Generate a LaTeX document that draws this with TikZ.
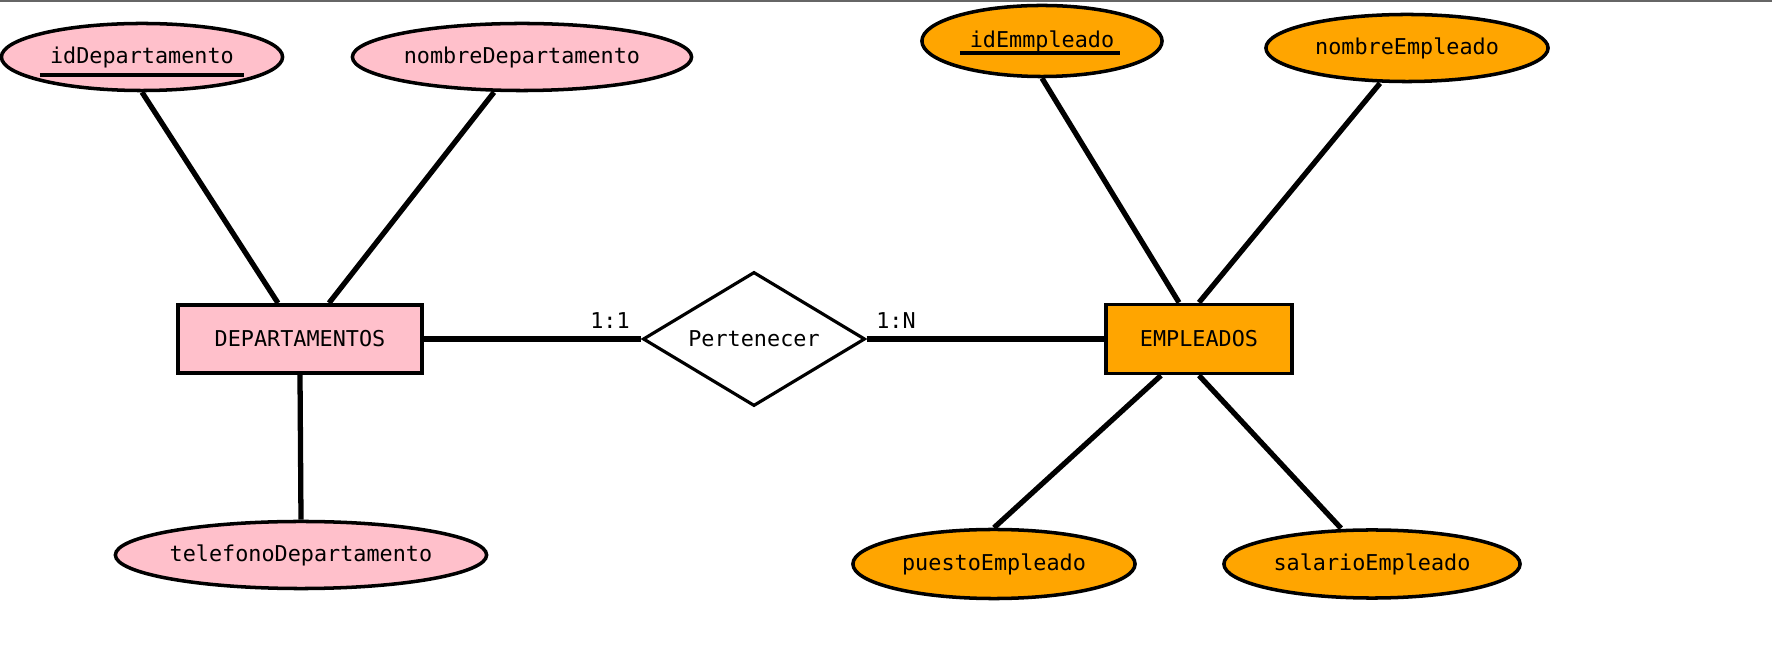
\documentclass[tikz,border=0pt]{standalone}
\usepackage{fontspec}
\setmainfont{DejaVu Sans Mono}
\usetikzlibrary{shapes.geometric}
\definecolor{rosa}{RGB}{255,192,203}
\definecolor{naranja}{RGB}{255,165,0}
\tikzset{
	entidad/.style={draw, line width=1.1pt, rectangle, inner sep=0pt},
	atributo/.style={draw, line width=1pt, ellipse, inner sep=0pt, minimum height=0.68cm},
	relacion/.style={draw, line width=0.9pt, diamond, aspect=1.66, inner sep=0pt, minimum width=2.22cm, minimum height=1.34cm, fill=white},
	enlace/.style={line width=1.5pt},
	clave/.style={line width=1.1pt}
}

\begin{document}
\begin{tikzpicture}[x=0.01cm, y=-0.01cm, font=\fontsize{6.2pt}{7.5pt}\selectfont]
	\useasboundingbox (0,0) rectangle (1772,661);
	\fill[white] (0,0) rectangle (1772,661);
	\draw[gray!80!black, line width=0.6pt] (0,1) -- (1772,1);

	% Entidades
	\node[entidad, fill=rosa, minimum width=2.43cm, minimum height=0.68cm] (dep) at (300,339) {DEPARTAMENTOS};
	\node[entidad, fill=naranja, minimum width=1.86cm, minimum height=0.69cm] (emp) at (1199,339) {EMPLEADOS};

	% Relacion
	\node[relacion] (rel) at (754,339) {Pertenecer};
	\node (card1) at (610,321) {1:1};
	\node (cardN) at (896,321) {1:N};

	% Atributos de DEPARTAMENTOS
	\node[atributo, fill=rosa, minimum width=2.81cm, minimum height=0.67cm] (idDep) at (142,57) {idDepartamento};
	\node[atributo, fill=rosa, minimum width=3.39cm, minimum height=0.67cm] (nomDep) at (522,57) {nombreDepartamento};
	\node[atributo, fill=rosa, minimum width=3.69cm, minimum height=0.67cm] (telDep) at (301,555) {telefonoDepartamento};
	\draw[clave] ([xshift=-1.02cm, yshift=-0.18cm]idDep.center) -- ([xshift=1.02cm, yshift=-0.18cm]idDep.center);

	% Atributos de EMPLEADOS
	\node[atributo, fill=naranja, minimum width=2.40cm, minimum height=0.71cm] (idEmp) at (1042,41) {idEmmpleado};
	\node[atributo, fill=naranja, minimum width=2.82cm, minimum height=0.67cm] (nomEmp) at (1407,48) {nombreEmpleado};
	\node[atributo, fill=naranja, minimum width=2.82cm, minimum height=0.69cm] (pueEmp) at (994,564) {puestoEmpleado};
	\node[atributo, fill=naranja, minimum width=2.96cm, minimum height=0.68cm] (salEmp) at (1372,564) {salarioEmpleado};
	\draw[clave] ([xshift=-0.82cm, yshift=-0.12cm]idEmp.center) -- ([xshift=0.78cm, yshift=-0.12cm]idEmp.center);

	% Lineas
	\draw[enlace] (idDep.south) -- ([xshift=-0.22cm]dep.north);
	\draw[enlace] ([xshift=-0.28cm]nomDep.south) -- ([xshift=0.29cm]dep.north);
	\draw[enlace] (dep.south) -- (telDep.north);
	\draw[enlace] (dep.east) -- (rel.west);
	\draw[enlace] (rel.east) -- (emp.west);
	\draw[enlace] (idEmp.south) -- ([xshift=-0.20cm]emp.north);
	\draw[enlace] ([xshift=-0.27cm]nomEmp.south) -- (emp.north);
	\draw[enlace] ([xshift=-0.38cm]emp.south) -- (pueEmp.north);
	\draw[enlace] (emp.south) -- ([xshift=-0.31cm]salEmp.north);
\end{tikzpicture}
\end{document}
